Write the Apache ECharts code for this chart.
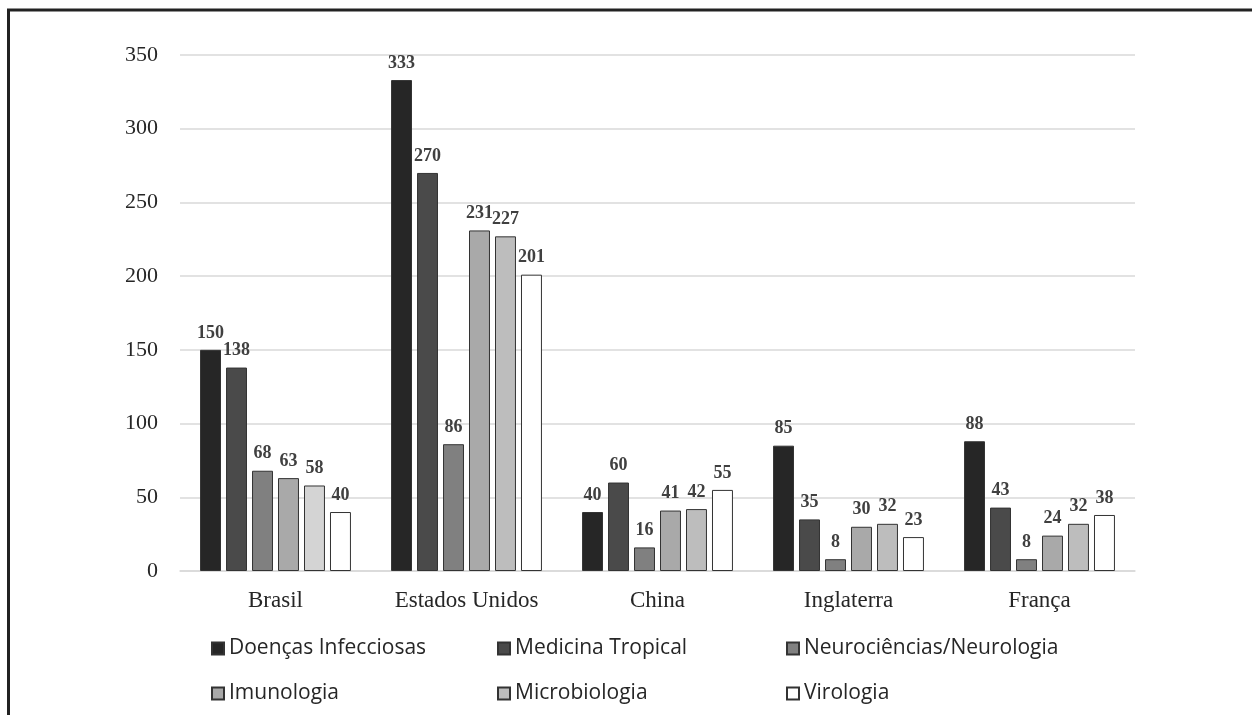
<!DOCTYPE html>
<html>
<head>
<meta charset="utf-8">
<script src="https://cdn.jsdelivr.net/npm/echarts@6/dist/echarts.min.js"></script>
<style>
  html, body { margin: 0; padding: 0; background: #fff; }
  #chart { width: 1252px; height: 715px; }
</style>
</head>
<body>
<div id="chart"></div>
<script>
var countries = ['Brasil', 'Estados Unidos', 'China', 'Inglaterra', 'França']
var seriesNames = ['Doenças Infecciosas', 'Medicina Tropical', 'Neurociências/Neurologia', 'Imunologia', 'Microbiologia', 'Virologia']
var doencas = [150, 333, 40, 85, 88]
var medicina = [138, 270, 60, 35, 43]
var neuro = [68, 86, 16, 8, 8]
var imuno = [63, 231, 41, 30, 24]
var micro = [58, 227, 42, 32, 32]
var viro = [40, 201, 55, 23, 38]
var yTicks = [0, 50, 100, 150, 200, 250, 300, 350]

var allValues = [doencas, medicina, neuro, imuno, micro, viro]
var colors = ['#262626', '#4a4a4a', '#808080', '#a9a9a9', '#bdbdbd', '#ffffff']

var chart = echarts.init(document.getElementById('chart'))

var series = seriesNames.map(function (name, i) {
  var data = allValues[i].map(function (v, j) {
    // the Brasil microbiology bar is printed lighter in the source
    if (i === 4 && j === 0) {
      return { value: v, itemStyle: { color: '#d4d4d4' } }
    }
    return v
  })
  return {
    name: name,
    type: 'bar',
    barGap: '24%',
    barCategoryGap: '21%',
    itemStyle: {
      color: colors[i],
      borderColor: '#333',
      borderWidth: 1
    },
    label: {
      show: true,
      position: 'top',
      distance: 8,
      fontFamily: 'Liberation Serif',
      fontWeight: 'bold',
      fontSize: 18,
      color: '#404040'
    },
    data: data
  }
})

var legendText = {
  fontFamily: 'Open Sans',
  fontSize: 21,
  color: '#262626',
  lineHeight: 21
}
function makeLegend(left, names) {
  return {
    left: left,
    top: 633,
    orient: 'vertical',
    itemWidth: 12,
    itemHeight: 12,
    itemGap: 24,
    icon: 'rect',
    textStyle: legendText,
    data: names
  }
}

chart.setOption({
  backgroundColor: '#fff',
  animation: false,
  grid: {
    left: 180,
    right: 117,
    top: 55,
    bottom: 144
  },
  legend: [
    makeLegend(206, [seriesNames[0], seriesNames[3]]),
    makeLegend(492, [seriesNames[1], seriesNames[4]]),
    makeLegend(781, [seriesNames[2], seriesNames[5]])
  ],
  xAxis: {
    type: 'category',
    data: countries,
    axisLine: { lineStyle: { color: '#d9d9d9', width: 1.5 } },
    axisTick: { show: false },
    axisLabel: {
      fontFamily: 'Liberation Serif',
      fontSize: 23,
      color: '#262626',
      margin: 18
    }
  },
  yAxis: {
    type: 'value',
    min: yTicks[0],
    max: yTicks[yTicks.length - 1],
    interval: 50,
    axisLine: { show: false },
    axisTick: { show: false },
    axisLabel: {
      fontFamily: 'Liberation Serif',
      fontSize: 22,
      color: '#262626',
      margin: 22
    },
    splitLine: { lineStyle: { color: '#d9d9d9', width: 1.5 } }
  },
  graphic: [
    {
      type: 'polyline',
      shape: { points: [[8.5, 715], [8.5, 10], [1252, 10]] },
      style: { stroke: '#222', lineWidth: 3, fill: null }
    }
  ],
  series: series
})
</script>
</body>
</html>
